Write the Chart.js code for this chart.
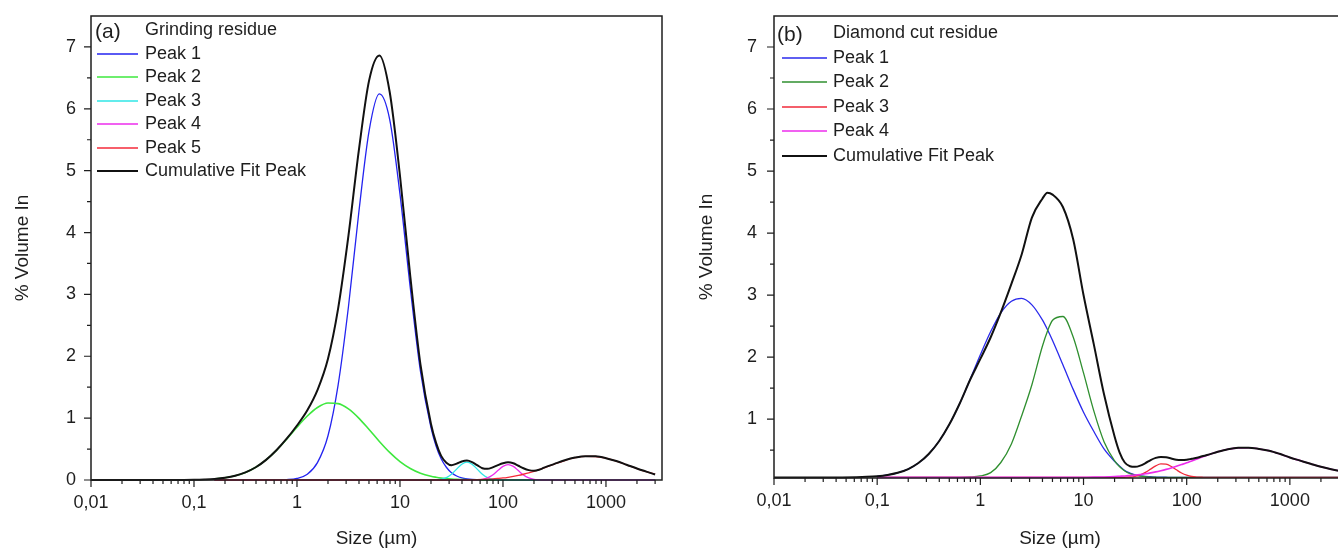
<!DOCTYPE html>
<html>
<head>
<meta charset="utf-8">
<title>Particle size distribution</title>
<script src="https://cdn.jsdelivr.net/npm/chart.js@4.4.1/dist/chart.umd.min.js"></script>
<style>
  html, body { margin: 0; padding: 0; background: #fff; overflow: hidden; width: 1338px; height: 550px; }
  canvas { position: absolute; top: 0; }
  #chartA { left: 0; }
  #chartB { left: 680px; }
</style>
</head>
<body>
<canvas id="chartA" width="680" height="550"></canvas>
<canvas id="chartB" width="690" height="550"></canvas>
<script>
// ---- (a) grinding residue ----
var sizesA = [0.01, 0.0316, 0.0631, 0.1, 0.126, 0.158, 0.2, 0.251, 0.316, 0.398,
  0.501, 0.631, 0.794, 1, 1.26, 1.58, 2, 2.51, 3.16, 3.98,
  5.01, 6.31, 7.94, 10, 12.6, 15.8, 20, 22.4, 25.1, 28.2,
  31.6, 35.5, 39.8, 44.7, 50.1, 56.2, 63.1, 70.8, 79.4, 89.1,
  100, 112, 126, 141, 158, 178, 200, 224, 251, 316,
  398, 501, 631, 794, 1000, 1259, 1585, 2000, 2512, 3000];

var peak1A = [null, null, null, null, null, 0, 0, 0, 0, 0,
  0, 0.001, 0.006, 0.026, 0.093, 0.281, 0.715, 1.539, 2.80, 4.32,
  5.64, 6.24, 5.83, 4.62, 3.10, 1.76, 0.845, 0.549, 0.343, 0.206,
  0.118, 0.065, 0.034, 0.017, 0.008, 0.004, 0.002, 0, 0, 0,
  0, 0, 0, 0, 0, 0, 0, 0, 0, 0,
  0, 0, 0, 0, 0, 0, 0, 0, 0, 0];

var peak2A = [null, null, null, null, null, 0.017, 0.036, 0.068, 0.123, 0.206,
  0.325, 0.479, 0.661, 0.855, 1.034, 1.172, 1.244, 1.235, 1.149, 1.001,
  0.816, 0.623, 0.446, 0.298, 0.187, 0.110, 0.060, 0.044, 0.031, 0.022,
  0.015, 0.010, 0.007, 0.005, 0.003, 0.002, 0.001, 0, 0, 0,
  0, 0, 0, 0, 0, 0, 0, 0, 0, 0,
  0, 0, 0, 0, 0, 0, 0, 0, 0, 0];

var peak3A = [null, null, null, null, null, 0, 0, 0, 0, 0,
  0, 0, 0, 0, 0, 0, 0, 0, 0, 0,
  0, 0, 0, 0, 0, 0, 0, 0.003, 0.013, 0.039,
  0.094, 0.176, 0.256, 0.29, 0.256, 0.176, 0.094, 0.039, 0.013, 0.003,
  0, 0, 0, 0, 0, 0, 0, 0, 0, 0,
  0, 0, 0, 0, 0, 0, 0, 0, 0, 0];

var peak4A = [null, null, null, null, null, 0, 0, 0, 0, 0,
  0, 0, 0, 0, 0, 0, 0, 0, 0, 0,
  0, 0, 0, 0, 0, 0, 0, 0, 0, 0,
  0, 0, 0, 0, 0, 0.003, 0.011, 0.034, 0.081, 0.152,
  0.221, 0.25, 0.221, 0.152, 0.081, 0.034, 0.011, 0.003, 0, 0,
  0, 0, 0, 0, 0, 0, 0, 0, 0, 0];

var peak5A = [null, null, null, null, null, 0, 0, 0, 0, 0,
  0, 0, 0, 0, 0, 0, 0, 0, 0, 0,
  0, 0, 0, 0, 0, 0, 0, 0, 0, 0,
  0.001, 0.001, 0.002, 0.003, 0.004, 0.006, 0.009, 0.013, 0.018, 0.025,
  0.033, 0.044, 0.058, 0.074, 0.093, 0.115, 0.140, 0.168, 0.197, 0.258,
  0.315, 0.360, 0.383, 0.380, 0.352, 0.305, 0.246, 0.185, 0.130, 0.093];

var cumulativeA = [0, 0, 0, 0.003, 0.008, 0.017, 0.036, 0.068, 0.123, 0.206,
  0.325, 0.48, 0.667, 0.881, 1.127, 1.453, 1.959, 2.774, 3.949, 5.321,
  6.456, 6.863, 6.276, 4.918, 3.287, 1.870, 0.905, 0.60, 0.39, 0.28,
  0.24, 0.265, 0.30, 0.315, 0.29, 0.24, 0.19, 0.18, 0.205, 0.24,
  0.27, 0.285, 0.27, 0.23, 0.19, 0.16, 0.15, 0.165, 0.20, 0.26,
  0.318, 0.362, 0.385, 0.382, 0.353, 0.306, 0.247, 0.186, 0.131, 0.09];

// ---- (b) diamond cut residue ----
var sizesB = [0.01, 0.0316, 0.0631, 0.0794, 0.1, 0.126, 0.158, 0.2, 0.251, 0.316,
  0.398, 0.501, 0.631, 0.794, 1, 1.26, 1.58, 2, 2.51, 3.16,
  3.98, 4.47, 5.01, 6.31, 7.94, 10, 12.6, 15.8, 20, 22.4, 25.1,
  28.2, 31.6, 35.5, 39.8, 44.7, 50.1, 56.2, 63.1, 70.8, 79.4,
  89.1, 100, 112, 126, 141, 158, 200, 251, 316, 398,
  501, 631, 794, 1000, 1259, 1585, 2000, 2512, 3162, 3500];

var peak1B = [null, null, null, null, 0.079, 0.099, 0.134, 0.194, 0.291, 0.437,
  0.643, 0.916, 1.252, 1.636, 2.036, 2.411, 2.714, 2.901, 2.947, 2.842,
  2.604, 2.445, 2.267, 1.877, 1.479, 1.111, 0.799, 0.52, 0.32, 0.24, 0.17,
  0.13, 0.10, 0.085, 0.075, 0.07, 0.065, 0.063, 0.062, 0.06, 0.06,
  0.06, 0.06, 0.06, 0.06, 0.06, 0.06, 0.06, 0.06, 0.06, 0.06,
  0.06, 0.06, 0.06, 0.06, 0.06, 0.06, 0.06, 0.06, 0.06, 0.06];

var peak2B = [null, null, null, null, 0.06, 0.06, 0.06, 0.06, 0.06, 0.06,
  0.06, 0.06, 0.061, 0.067, 0.084, 0.136, 0.30, 0.60, 1.05, 1.554,
  2.167, 2.417, 2.593, 2.654, 2.324, 1.744, 1.128, 0.636, 0.325, 0.23, 0.164,
  0.12, 0.095, 0.08, 0.07, 0.065, 0.062, 0.06, 0.06, 0.06, 0.06,
  0.06, 0.06, 0.06, 0.06, 0.06, 0.06, 0.06, 0.06, 0.06, 0.06,
  0.06, 0.06, 0.06, 0.06, 0.06, 0.06, 0.06, 0.06, 0.06, 0.06];

var peak3B = [null, null, null, null, 0.06, 0.06, 0.06, 0.06, 0.06, 0.06,
  0.06, 0.06, 0.06, 0.06, 0.06, 0.06, 0.06, 0.06, 0.06, 0.06,
  0.06, 0.06, 0.06, 0.06, 0.06, 0.06, 0.06, 0.06, 0.06, 0.06, 0.062,
  0.066, 0.078, 0.101, 0.141, 0.193, 0.246, 0.277, 0.273, 0.236, 0.182,
  0.131, 0.095, 0.074, 0.065, 0.062, 0.06, 0.06, 0.06, 0.06, 0.06,
  0.06, 0.06, 0.06, 0.06, 0.06, 0.06, 0.06, 0.06, 0.06, 0.06];

var peak4B = [null, null, null, null, 0.06, 0.06, 0.06, 0.06, 0.06, 0.06,
  0.06, 0.06, 0.06, 0.06, 0.06, 0.06, 0.06, 0.06, 0.06, 0.06,
  0.06, 0.06, 0.06, 0.06, 0.06, 0.062, 0.064, 0.067, 0.073, 0.078, 0.083,
  0.09, 0.097, 0.107, 0.119, 0.133, 0.149, 0.168, 0.189, 0.212, 0.238,
  0.266, 0.295, 0.326, 0.357, 0.388, 0.418, 0.472, 0.513, 0.536, 0.538,
  0.519, 0.49, 0.44, 0.38, 0.33, 0.28, 0.23, 0.19, 0.16, 0.15];

var cumulativeB = [0.06, 0.06, 0.064, 0.069, 0.079, 0.099, 0.134, 0.194, 0.291, 0.437,
  0.643, 0.916, 1.252, 1.63, 1.97, 2.32, 2.72, 3.18, 3.65, 4.25,
  4.55, 4.65, 4.62, 4.42, 3.90, 3.0, 2.2, 1.40, 0.72, 0.46, 0.30,
  0.24, 0.23, 0.25, 0.29, 0.34, 0.375, 0.39, 0.385, 0.365, 0.345,
  0.34, 0.345, 0.36, 0.375, 0.40, 0.42, 0.472, 0.513, 0.536, 0.538,
  0.519, 0.49, 0.44, 0.38, 0.33, 0.28, 0.23, 0.19, 0.16, 0.15];

var seriesLabelsA = ['Peak 1', 'Peak 2', 'Peak 3', 'Peak 4', 'Peak 5', 'Cumulative Fit Peak'];
var seriesLabelsB = ['Peak 1', 'Peak 2', 'Peak 3', 'Peak 4', 'Cumulative Fit Peak'];

var decades = [0.01, 0.1, 1, 10, 100, 1000];
var decadeLabels = ['0,01', '0,1', '1', '10', '100', '1000'];
var yTicksA = [0, 0.5, 1, 1.5, 2, 2.5, 3, 3.5, 4, 4.5, 5, 5.5, 6, 6.5, 7];
var yTicksB = [0.5, 1, 1.5, 2, 2.5, 3, 3.5, 4, 4.5, 5, 5.5, 6, 6.5, 7];

var FONT = '"Liberation Sans", Arial, sans-serif';
var INK = '#1e1e1e';

// log-axis tick positions: 1..9 in every decade, up to 3000
var xTicks = [];
decades.forEach(function(d) {
    for (var k = 1; k <= 9; k++) {
        if (d * k <= 3000) xTicks.push(d * k);
    }
});

function isDecade(v) {
    var e = Math.log10(v);
    return Math.abs(e - Math.round(e)) < 1e-6;
}

// box round the plot plus outward tick marks (long on labelled ticks)
var frameTicks = {
    id: 'frameTicks',
    afterDatasetsDraw: function(chart) {
        var ctx = chart.ctx, a = chart.chartArea;
        var x = chart.scales.x, y = chart.scales.y;
        ctx.save();
        ctx.strokeStyle = INK;
        ctx.lineWidth = 1.5;
        ctx.strokeRect(a.left, a.top, a.right - a.left, a.bottom - a.top);
        ctx.lineWidth = 1.2;
        ctx.beginPath();
        x.ticks.forEach(function(t) {
            var px = x.getPixelForValue(t.value);
            var len = isDecade(t.value) ? 7 : 4;
            ctx.moveTo(px, a.bottom);
            ctx.lineTo(px, a.bottom + len);
        });
        y.ticks.forEach(function(t) {
            var py = y.getPixelForValue(t.value);
            var len = Number.isInteger(t.value) ? 7 : 4;
            ctx.moveTo(a.left - len, py);
            ctx.lineTo(a.left, py);
        });
        ctx.stroke();
        ctx.restore();
    }
};

// key in the upper left corner: panel tag, heading, one row per dataset
var panelKey = {
    id: 'panelKey',
    afterDraw: function(chart, args, o) {
        var ctx = chart.ctx, a = chart.chartArea;
        ctx.save();
        ctx.textBaseline = 'middle';
        ctx.fillStyle = INK;
        ctx.font = '21px ' + FONT;
        ctx.fillText(o.tag, a.left + o.tagX, a.top + o.top + 2);
        ctx.font = '18px ' + FONT;
        ctx.fillText(o.heading, a.left + o.textX, a.top + o.top);
        chart.data.datasets.forEach(function(ds, i) {
            var yy = Math.round(a.top + o.top + (i + 1) * o.rowH);
            ctx.strokeStyle = ds.borderColor;
            ctx.lineWidth = Math.max(ds.borderWidth, 1.5);
            ctx.beginPath();
            ctx.moveTo(a.left + o.lineX0, yy);
            ctx.lineTo(a.left + o.lineX1, yy);
            ctx.stroke();
            ctx.fillText(ds.label, a.left + o.textX, yy);
        });
        ctx.restore();
    }
};

function makeSet(label, sizes, values, colour, width, order) {
    return {
        label: label,
        data: sizes.map(function(s, i) { return {x: s, y: values[i]}; }),
        borderColor: colour,
        borderWidth: width,
        pointRadius: 0,
        fill: false,
        cubicInterpolationMode: 'monotone',
        clip: false,
        order: order
    };
}

function draw(id, datasets, yMin, yTicks, layout, key) {
    return new Chart(document.getElementById(id), {
        type: 'line',
        data: {datasets: datasets},
        plugins: [frameTicks, panelKey],
        options: {
            responsive: false,
            animation: false,
            events: [],
            devicePixelRatio: 1,
            layout: {padding: {top: layout.top, right: layout.right, bottom: 0, left: 0}},
            plugins: {legend: {display: false}, tooltip: {enabled: false}, panelKey: key},
            scales: {
                x: {
                    type: 'logarithmic',
                    min: 0.01,
                    max: 3500,
                    grid: {display: false, drawTicks: false},
                    border: {display: false},
                    afterBuildTicks: function(scale) {
                        scale.ticks = xTicks.map(function(v) { return {value: v}; });
                    },
                    afterFit: function(scale) {
                        scale.height = layout.xHeight;
                        scale.paddingLeft = 0;
                        scale.paddingRight = 0;
                    },
                    ticks: {
                        autoSkip: false,
                        maxRotation: 0,
                        minRotation: 0,
                        padding: 12,
                        color: INK,
                        font: {family: FONT, size: 18},
                        callback: function(v) {
                            var k = decades.indexOf(v);
                            return k >= 0 ? decadeLabels[k] : '';
                        }
                    },
                    title: {
                        display: true,
                        text: 'Size (µm)',
                        color: INK,
                        font: {family: FONT, size: 19},
                        padding: {top: 0, bottom: 0}
                    }
                },
                y: {
                    type: 'linear',
                    min: yMin,
                    max: 7.5,
                    grid: {display: false, drawTicks: false},
                    border: {display: false},
                    afterBuildTicks: function(scale) {
                        scale.ticks = yTicks.map(function(v) { return {value: v}; });
                    },
                    afterFit: function(scale) {
                        scale.width = layout.yWidth;
                        scale.paddingTop = 0;
                        scale.paddingBottom = 0;
                    },
                    ticks: {
                        autoSkip: false,
                        padding: layout.yPad,
                        color: INK,
                        font: {family: FONT, size: 18},
                        callback: function(v) { return Number.isInteger(v) ? String(v) : ''; }
                    },
                    title: {
                        display: true,
                        text: '% Volume In',
                        color: INK,
                        font: {family: FONT, size: 19},
                        padding: {top: layout.titlePad, bottom: 0}
                    }
                }
            }
        }
    });
}

draw('chartA', [
    makeSet(seriesLabelsA[0], sizesA, peak1A, '#2323f0', 1.3, 5),
    makeSet(seriesLabelsA[1], sizesA, peak2A, '#3ee83e', 1.6, 4),
    makeSet(seriesLabelsA[2], sizesA, peak3A, '#2fe6e6', 1.3, 3),
    makeSet(seriesLabelsA[3], sizesA, peak4A, '#ec2cec', 1.3, 2),
    makeSet(seriesLabelsA[4], sizesA, peak5A, '#f52a3a', 1.3, 1),
    makeSet(seriesLabelsA[5], sizesA, cumulativeA, '#111111', 2, 0)
], 0, yTicksA,
   {top: 16, right: 18, xHeight: 70, yWidth: 91, yPad: 15, titlePad: 11},
   {tag: '(a)', heading: 'Grinding residue', tagX: 4, textX: 54, lineX0: 6, lineX1: 47, top: 14.5, rowH: 23.4});

draw('chartB', [
    makeSet(seriesLabelsB[0], sizesB, peak1B, '#2a2aec', 1.3, 4),
    makeSet(seriesLabelsB[1], sizesB, peak2B, '#2f8f2f', 1.3, 3),
    makeSet(seriesLabelsB[2], sizesB, peak3B, '#f02a3a', 1.3, 2),
    makeSet(seriesLabelsB[3], sizesB, peak4B, '#ec2cec', 1.6, 1),
    makeSet(seriesLabelsB[4], sizesB, cumulativeB, '#111111', 2, 0)
], 0.05, yTicksB,
   {top: 16, right: 24, xHeight: 72, yWidth: 94, yPad: 17, titlePad: 15},
   {tag: '(b)', heading: 'Diamond cut residue', tagX: 3, textX: 59, lineX0: 8, lineX1: 53, top: 17, rowH: 24.5});
</script>
</body>
</html>
